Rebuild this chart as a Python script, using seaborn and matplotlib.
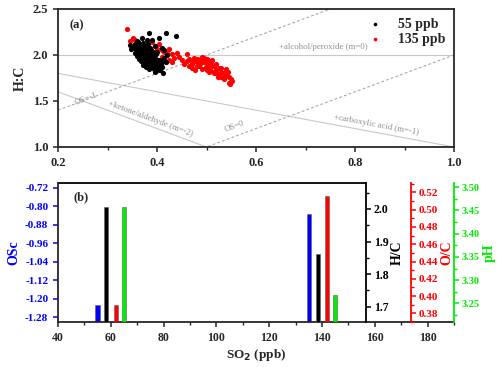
import numpy as np
import matplotlib
matplotlib.use("Agg")
import matplotlib.pyplot as plt
from matplotlib.ticker import MultipleLocator, FormatStrFormatter
import seaborn as sns

# ---------------------------
# Data (a): van Krevelen O:C vs H:C
# ---------------------------
oc_55 = [0.355, 0.358, 0.362, 0.365, 0.368, 0.370, 0.372, 0.375, 0.378, 0.380,
         0.382, 0.360, 0.363, 0.366, 0.369, 0.372, 0.375, 0.377, 0.379, 0.381,
         0.383, 0.385, 0.387, 0.389, 0.390, 0.392, 0.394, 0.396, 0.398, 0.400,
         0.402, 0.404, 0.406, 0.408, 0.410, 0.412, 0.384, 0.419, 0.439, 0.405,
         0.390, 0.395, 0.400, 0.352, 0.357, 0.361, 0.364, 0.368, 0.371, 0.374,
         0.376, 0.379, 0.382, 0.386, 0.388, 0.391, 0.393, 0.397, 0.399, 0.403,
         0.407, 0.411, 0.415, 0.418, 0.420, 0.370, 0.360, 0.345, 0.348, 0.385,
         0.392, 0.397, 0.386, 0.374, 0.367, 0.372, 0.383, 0.395, 0.380, 0.410,
         0.415, 0.360, 0.355, 0.378, 0.390]
hc_55 = [2.12, 2.10, 2.14, 2.08, 2.11, 2.05, 2.13, 2.09, 2.02, 2.07,
         2.12, 2.06, 2.03, 2.00, 1.97, 1.99, 1.95, 2.04, 1.98, 1.93,
         2.01, 1.96, 2.05, 1.92, 1.99, 1.95, 1.90, 1.97, 1.88, 1.93,
         1.86, 1.91, 1.84, 1.89, 1.87, 1.80, 2.24, 2.24, 2.21, 2.19,
         2.16, 2.10, 2.03, 2.09, 2.05, 2.01, 1.96, 2.02, 1.94, 2.00,
         1.91, 1.95, 1.89, 1.93, 1.87, 1.91, 1.85, 1.93, 1.84, 1.95,
         1.95, 1.92, 1.97, 1.92, 2.00, 2.18, 2.15, 2.11, 2.07, 2.08,
         2.03, 2.01, 1.99, 1.97, 1.93, 1.89, 1.85, 1.82, 2.16, 2.08,
         2.05, 1.99, 2.02, 1.87, 1.96]

oc_135 = [0.339, 0.345, 0.352, 0.356, 0.362, 0.370, 0.380, 0.390, 0.395, 0.400,
          0.405, 0.410, 0.415, 0.420, 0.425, 0.430, 0.425, 0.430, 0.435, 0.440,
          0.445, 0.450, 0.410, 0.405, 0.460, 0.465, 0.470, 0.470, 0.475, 0.480,
          0.480, 0.485, 0.490, 0.490, 0.495, 0.500, 0.500, 0.505, 0.505, 0.510,
          0.510, 0.515, 0.515, 0.520, 0.520, 0.525, 0.525, 0.530, 0.530, 0.535,
          0.535, 0.540, 0.540, 0.545, 0.545, 0.548, 0.550, 0.552, 0.470, 0.485,
          0.495, 0.500, 0.510, 0.490, 0.480, 0.475, 0.460, 0.455, 0.465, 0.520,
          0.505, 0.530, 0.512, 0.498, 0.487, 0.476, 0.523, 0.538, 0.543]
hc_135 = [2.28, 2.15, 2.18, 2.16, 2.13, 2.12, 2.10, 2.14, 2.10, 2.06,
          2.12, 2.05, 2.03, 2.02, 2.07, 2.01, 1.95, 1.92, 1.97, 2.02,
          1.98, 1.95, 1.98, 1.90, 2.01, 1.96, 1.94, 1.90, 1.97, 1.92,
          1.88, 1.95, 1.93, 1.85, 1.97, 1.96, 1.90, 1.94, 1.86, 1.92,
          1.83, 1.88, 1.80, 1.90, 1.84, 1.78, 1.86, 1.82, 1.76, 1.80,
          1.74, 1.85, 1.78, 1.76, 1.70, 1.68, 1.74, 1.72, 1.86, 1.88,
          1.92, 1.84, 1.88, 1.98, 1.96, 1.93, 1.94, 1.90, 1.88, 1.80,
          1.82, 1.86, 1.95, 1.87, 1.90, 1.84, 1.76, 1.77, 1.82]

# reference lines: (slope, intercept, dashed)
ref_lines = [(0, 2, False), (-1, 2, False), (-2, 2, False), (2, 1, True), (2, 0, True)]
# annotations: (text, O:C, H:C, slope)
ref_texts = [("+alcohol/peroxide (m=0)", 0.736, 2.085, 0),
             ("+carboxylic acid (m=-1)", 0.843, 1.235, -1),
             ("+ketone/aldehyde (m=-2)", 0.387, 1.31, -2),
             ("OS=-1", 0.256, 1.52, 2),
             ("OS=0", 0.556, 1.225, 2)]

# ---------------------------
# Data (b): bars vs SO2
# ---------------------------
so2_osc = [55.0, 135.0]
osc_vals = [-1.228, -0.832]
so2_hc = [58.3, 138.6]
hc_vals = [2.005, 1.862]
so2_oc = [61.9, 142.0]
oc_vals = [0.390, 0.516]
so2_ph = [65.0, 145.0]
ph_vals = [3.457, 3.269]

# ---------------------------
# Style
# ---------------------------
sns.set_style("ticks")
plt.rcParams['font.family'] = ['Liberation Serif', 'DejaVu Serif']
plt.rcParams['font.weight'] = 'bold'
plt.rcParams['axes.labelweight'] = 'bold'
plt.rcParams['axes.linewidth'] = 1.3
plt.rcParams['xtick.major.width'] = 1.1
plt.rcParams['ytick.major.width'] = 1.1
plt.rcParams['xtick.minor.width'] = 1.0
plt.rcParams['ytick.minor.width'] = 1.0
plt.rcParams['xtick.major.size'] = 3.5
plt.rcParams['ytick.major.size'] = 3.5
plt.rcParams['xtick.minor.size'] = 2
plt.rcParams['ytick.minor.size'] = 2

fig = plt.figure(figsize=(5.0, 3.67), dpi=100)
ax_a = fig.add_axes([0.116, 0.5995, 0.792, 0.376])
ax_b = fig.add_axes([0.116, 0.1226, 0.792, 0.379])

# ---------------------------
# Panel (a)
# ---------------------------
xs = np.array([0.2, 1.0])
for m, b, dashed in ref_lines:
    ax_a.plot(xs, m * xs + b, color='#a8a8a8' if dashed else '#c8c8c8',
              lw=0.8, ls=(0, (2.5, 2)) if dashed else '-', zorder=1)
for txt, x, y, m in ref_texts:
    ax_a.text(x, y, txt, fontsize=6.3, fontweight='normal', color='#909090',
              ha='center', va='center', rotation=np.degrees(np.arctan(m)),
              transform_rotates_text=True, rotation_mode='anchor', zorder=2)

sns.scatterplot(x=oc_135, y=hc_135, color='red', s=14, linewidth=0,
                label='135 ppb', ax=ax_a, zorder=3)
sns.scatterplot(x=oc_55, y=hc_55, color='black', s=14, linewidth=0,
                label='55 ppb', ax=ax_a, zorder=4)
h, l = ax_a.get_legend_handles_labels()
ax_a.legend(h[::-1], l[::-1], loc='upper right', frameon=False,
            prop=dict(weight='bold', size=10), handletextpad=0.6,
            borderaxespad=0.25, labelspacing=0.15, markerscale=0.7)

ax_a.set_xlim(0.2, 1.0)
ax_a.set_ylim(1.0, 2.5)
ax_a.xaxis.set_major_locator(MultipleLocator(0.2))
ax_a.xaxis.set_minor_locator(MultipleLocator(0.1))
ax_a.yaxis.set_major_locator(MultipleLocator(0.5))
ax_a.xaxis.set_major_formatter(FormatStrFormatter('%.1f'))
ax_a.yaxis.set_major_formatter(FormatStrFormatter('%.1f'))
ax_a.tick_params(labelsize=9)
ax_a.set_ylabel("H:C", fontsize=10, labelpad=4)
ax_a.text(0.03, 0.88, "(a)", transform=ax_a.transAxes, fontsize=9,
          fontweight='bold', ha='left', va='center')

# ---------------------------
# Panel (b)
# ---------------------------
bar_w = 1.6
ax_hc = ax_b.twinx()
ax_oc = ax_b.twinx()
ax_ph = ax_b.twinx()

osc_lim = (-1.30, -0.70)
hc_lim = (1.653, 2.08)
oc_lim = (0.370, 0.531)
ph_lim = (3.210, 3.509)

ax_b.bar(so2_osc, np.array(osc_vals) - osc_lim[0], bottom=osc_lim[0], width=bar_w,
         color='#0000ff', edgecolor='#606060', linewidth=0.4)
ax_hc.bar(so2_hc, np.array(hc_vals) - hc_lim[0], bottom=hc_lim[0], width=bar_w,
          color='black', edgecolor='#606060', linewidth=0.4)
ax_oc.bar(so2_oc, np.array(oc_vals) - oc_lim[0], bottom=oc_lim[0], width=bar_w,
          color='#ff0000', edgecolor='#606060', linewidth=0.4)
ax_ph.bar(so2_ph, np.array(ph_vals) - ph_lim[0], bottom=ph_lim[0], width=bar_w,
          color='#00ee00', edgecolor='#606060', linewidth=0.4)

ax_b.set_xlim(40, 190)
ax_b.set_ylim(*osc_lim)
ax_b.xaxis.set_major_locator(MultipleLocator(20))
ax_b.xaxis.set_minor_locator(MultipleLocator(10))
ax_b.set_yticks(np.arange(-1.28, -0.71, 0.08))
ax_b.yaxis.set_major_formatter(FormatStrFormatter('%.2f'))
ax_b.tick_params(axis='x', labelsize=8.5)
ax_b.tick_params(axis='y', labelsize=8, colors='#0000ff')
ax_b.spines['top'].set_visible(False)
ax_b.spines['right'].set_visible(False)
ax_b.plot([0, 0.778], [1, 1], color='black', lw=1.3,
          transform=ax_b.transAxes, clip_on=False)
ax_b.set_xlabel("SO$_2$ (ppb)", fontsize=9.5, labelpad=2)
ax_b.set_ylabel("OSc", fontsize=10, color='#0000ff', labelpad=3)
ax_b.text(0.04, 0.9, "(b)", transform=ax_b.transAxes, fontsize=9,
          fontweight='bold', ha='left', va='center')

for axt, pos, lim, ticks, minor, fmt, col, lab, fs in [
        (ax_hc, 0.778, hc_lim, [1.7, 1.8, 1.9, 2.0], 0.05, '%.1f', 'black', 'H/C', 8.5),
        (ax_oc, 0.891, oc_lim, np.arange(0.38, 0.521, 0.02), 0.01, '%.2f', '#ff0000', 'O/C', 8),
        (ax_ph, 1.0, ph_lim, np.arange(3.25, 3.501, 0.05), 0.025, '%.2f', '#00ee00', 'pH', 7.5)]:
    axt.set_ylim(*lim)
    axt.set_yticks(ticks)
    axt.yaxis.set_minor_locator(MultipleLocator(minor))
    axt.yaxis.set_major_formatter(FormatStrFormatter(fmt))
    for s in ['left', 'top', 'bottom']:
        axt.spines[s].set_visible(False)
    axt.spines['right'].set_position(('axes', pos))
    axt.spines['right'].set_color(col)
    axt.spines['right'].set_linewidth(1.3)
    axt.tick_params(axis='y', which='both', colors=col, labelsize=fs, pad=2)
    axt.set_ylabel(lab, fontsize=10, color=col, labelpad=2, rotation=90)

fig.savefig("out.png", dpi=100)
plt.close(fig)
